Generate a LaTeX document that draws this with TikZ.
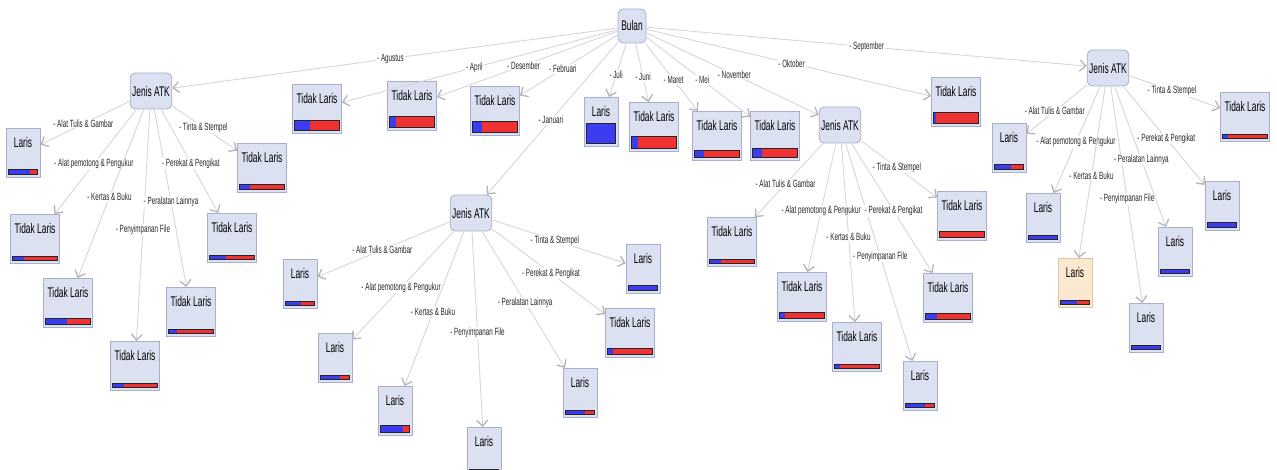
\documentclass[tikz,border=0pt]{standalone}
\usepackage{fontspec}
\newfontfamily\treefont{Liberation Sans}[FakeStretch=0.6]
\usetikzlibrary{arrows.meta,calc}
\definecolor{nodefill}{HTML}{DCE1F2}
\definecolor{nodeline}{HTML}{A6AFCB}
\definecolor{hifill}{HTML}{FBE8D1}
\definecolor{hiline}{HTML}{DCC6A6}
\definecolor{edgegray}{HTML}{D6D6D6}
\definecolor{tipgray}{HTML}{B4B4B4}
\definecolor{labelgray}{HTML}{282828}
\definecolor{barblue}{HTML}{3C3CF0}
\definecolor{barred}{HTML}{F03232}
\definecolor{bardark}{HTML}{252525}

% leaf: name, position, box style, text, blue part, bar height
\newcommand{\leafnode}[6]{%
  \node[leaf,#3] (#1) at (#2) {};
  \node[leaftext] at ([yshift=-14pt]#1.north) {#4};
  \coordinate (#1-l) at ([xshift=2.5pt,yshift=3pt]#1.south west);
  \coordinate (#1-r) at ([xshift=-2.5pt,yshift=3pt]#1.south east);
  \fill[barred] (#1-l) rectangle ([yshift=#6pt]#1-r);
  \fill[barblue] (#1-l) rectangle ([yshift=#6pt]$(#1-l)!#5!(#1-r)$);
  \draw[bardark,line width=1pt] (#1-l) rectangle ([yshift=#6pt]#1-r);
}

\begin{document}
\begin{tikzpicture}[x=1pt,y=-1pt,
  split/.style={draw=nodeline,fill=nodefill,line width=0.8pt,rounded corners=5pt,
    minimum width=41pt,minimum height=36pt,inner sep=2pt,
    font={\fontsize{14}{15}\selectfont\treefont}},
  leaf/.style={draw=nodeline,fill=nodefill,line width=0.8pt,minimum height=49pt,inner sep=0pt},
  tidakbox/.style={minimum width=49pt},
  larisbox/.style={minimum width=34pt},
  hilite/.style={fill=hifill,draw=hiline},
  leaftext/.style={inner sep=0pt,font={\fontsize{14}{15}\selectfont\treefont}},
  branch/.style={draw=edgegray,line width=0.9pt,
    -{Straight Barb[length=6pt,width=11pt,line width=1.3pt,color=tipgray]}},
  cond/.style={fill=white,inner sep=0.8pt,pos=.52,text=labelgray,
    font={\fontsize{10.5}{11}\selectfont\treefont}}]
\useasboundingbox (0,0) rectangle (1277,470);

% decision nodes
\node[split,minimum width=28pt,minimum height=34pt] (bulan) at (632,26) {Bulan};
\node[split] (atkA) at (151,91) {Jenis ATK};
\node[split] (atkB) at (471,213) {Jenis ATK};
\node[split] (atkC) at (840,125) {Jenis ATK};
\node[split] (atkD) at (1108,68) {Jenis ATK};

% leaves under Bulan
\leafnode{tlApr}{317,109}{tidakbox}{Tidak Laris}{.34}{10}
\leafnode{tlDes}{412,106}{tidakbox}{Tidak Laris}{.15}{11}
\leafnode{tlFeb}{495,111}{tidakbox}{Tidak Laris}{.2}{11}
\leafnode{lsJul}{601,122}{larisbox}{Laris}{.97}{20}
\leafnode{tlJun}{654,127}{tidakbox}{Tidak Laris}{.15}{12}
\leafnode{tlMar}{717,136}{tidakbox}{Tidak Laris}{.21}{7}
\leafnode{tlMei}{775,136}{tidakbox}{Tidak Laris}{.21}{9}
\leafnode{tlOkt}{956,102}{tidakbox}{Tidak Laris}{.06}{11}

% leaves under Agustus
\leafnode{aAT}{23,153}{larisbox}{Laris}{.74}{5}
\leafnode{aAP}{35,239}{tidakbox}{Tidak Laris}{.26}{4}
\leafnode{aKB}{68,303}{tidakbox}{Tidak Laris}{.47}{6}
\leafnode{aPF}{135,366}{tidakbox}{Tidak Laris}{.26}{4}
\leafnode{aPL}{191,312}{tidakbox}{Tidak Laris}{.19}{4}
\leafnode{aPP}{232,238}{tidakbox}{Tidak Laris}{.37}{4}
\leafnode{aTS}{262,168}{tidakbox}{Tidak Laris}{.24}{5}

% leaves under Januari
\leafnode{bAT}{300,284}{larisbox}{Laris}{.54}{4}
\leafnode{bAP}{335,358}{larisbox}{Laris}{.67}{4}
\leafnode{bKB}{395,411}{larisbox}{Laris}{.76}{7}
\leafnode{bPF}{484,452}{larisbox}{Laris}{.9}{4}
\leafnode{bPL}{580,393}{larisbox}{Laris}{.66}{4}
\leafnode{bPP}{630,333}{tidakbox}{Tidak Laris}{.11}{6}
\leafnode{bTS}{643,269}{larisbox}{Laris}{1}{5}

% leaves under November
\leafnode{cAT}{732,242}{tidakbox}{Tidak Laris}{.26}{4}
\leafnode{cAP}{802,297}{tidakbox}{Tidak Laris}{.12}{6}
\leafnode{cKB}{857,347}{tidakbox}{Tidak Laris}{.12}{4}
\leafnode{cPF}{920,386}{larisbox}{Laris}{.68}{4}
\leafnode{cPP}{948,298}{tidakbox}{Tidak Laris}{.25}{6}
\leafnode{cTS}{962,216}{tidakbox}{Tidak Laris}{0}{6}

% leaves under September
\leafnode{dAT}{1009,148}{larisbox}{Laris}{.55}{5}
\leafnode{dAP}{1043,218}{larisbox}{Laris}{1}{4}
\leafnode{dKB}{1075,283}{larisbox,hilite}{Laris}{.55}{4}
\leafnode{dPF}{1146,328}{larisbox}{Laris}{1}{4}
\leafnode{dPL}{1175,252}{larisbox}{Laris}{1}{4}
\leafnode{dPP}{1222,206}{larisbox}{Laris}{1}{5}
\leafnode{dTS}{1245,117}{tidakbox}{Tidak Laris}{.13}{4}

% Bulan
\draw[branch] (bulan) -- node[cond,pos=.51] {- Agustus} (atkA);
\draw[branch] (bulan) -- node[cond] {- April} (tlApr);
\draw[branch] (bulan) -- node[cond] {- Desember} (tlDes);
\draw[branch] (bulan) -- node[cond,pos=.56] {- Februari} (tlFeb);
\draw[branch] (bulan) -- node[cond,pos=.51] {- Januari} (atkB);
\draw[branch] (bulan) -- node[cond,pos=.59] {- Juli} (lsJul);
\draw[branch] (bulan) -- node[cond,pos=.57] {- Juni} (tlJun);
\draw[branch] (bulan) -- node[cond,pos=.54] {- Maret} (tlMar);
\draw[branch] (bulan) -- node[cond,pos=.54] {- Mei} (tlMei);
\draw[branch] (bulan) -- node[cond,pos=.51] {- November} (atkC);
\draw[branch] (bulan) -- node[cond,pos=.51] {- Oktober} (tlOkt);
\draw[branch] (bulan) -- node[cond,pos=.5] {- September} (atkD);

% Agustus
\draw[branch] (atkA) -- node[cond] {- Alat Tulis \& Gambar} (aAT);
\draw[branch] (atkA) -- node[cond] {- Alat pemotong \& Pengukur} (aAP);
\draw[branch] (atkA) -- node[cond] {- Kertas \& Buku} (aKB);
\draw[branch] (atkA) -- node[cond] {- Penyimpanan File} (aPF);
\draw[branch] (atkA) -- node[cond] {- Peralatan Lainnya} (aPL);
\draw[branch] (atkA) -- node[cond] {- Perekat \& Pengikat} (aPP);
\draw[branch] (atkA) -- node[cond,pos=.48] {- Tinta \& Stempel} (aTS);

% Januari
\draw[branch] (atkB) -- node[cond,pos=.51] {- Alat Tulis \& Gambar} (bAT);
\draw[branch] (atkB) -- node[cond] {- Alat pemotong \& Pengukur} (bAP);
\draw[branch] (atkB) -- node[cond] {- Kertas \& Buku} (bKB);
\draw[branch] (atkB) -- node[cond] {- Penyimpanan File} (bPF);
\draw[branch] (atkB) -- node[cond] {- Peralatan Lainnya} (bPL);
\draw[branch] (atkB) -- node[cond] {- Perekat \& Pengikat} (bPP);
\draw[branch] (atkB) -- node[cond,pos=.47] {- Tinta \& Stempel} (bTS);

% November
\draw[branch] (atkC) -- node[cond,pos=.55] {- Alat Tulis \& Gambar} (cAT);
\draw[branch] (atkC) -- node[cond] {- Alat pemotong \& Pengukur} (cAP);
\draw[branch] (atkC) -- node[cond] {- Kertas \& Buku} (cKB);
\draw[branch] (atkC) -- node[cond] {- Penyimpanan File} (cPF);
\draw[branch] (atkC) -- node[cond] {- Perekat \& Pengikat} (cPP);
\draw[branch] (atkC) -- node[cond,pos=.47] {- Tinta \& Stempel} (cTS);

% September
\draw[branch] (atkD) -- node[cond,pos=.53] {- Alat Tulis \& Gambar} (dAT);
\draw[branch] (atkD) -- node[cond] {- Alat pemotong \& Pengukur} (dAP);
\draw[branch] (atkD) -- node[cond] {- Kertas \& Buku} (dKB);
\draw[branch] (atkD) -- node[cond] {- Penyimpanan File} (dPF);
\draw[branch] (atkD) -- node[cond] {- Peralatan Lainnya} (dPL);
\draw[branch] (atkD) -- node[cond,pos=.53] {- Perekat \& Pengikat} (dPP);
\draw[branch] (atkD) -- node[cond,pos=.47] {- Tinta \& Stempel} (dTS);
\end{tikzpicture}
\end{document}
